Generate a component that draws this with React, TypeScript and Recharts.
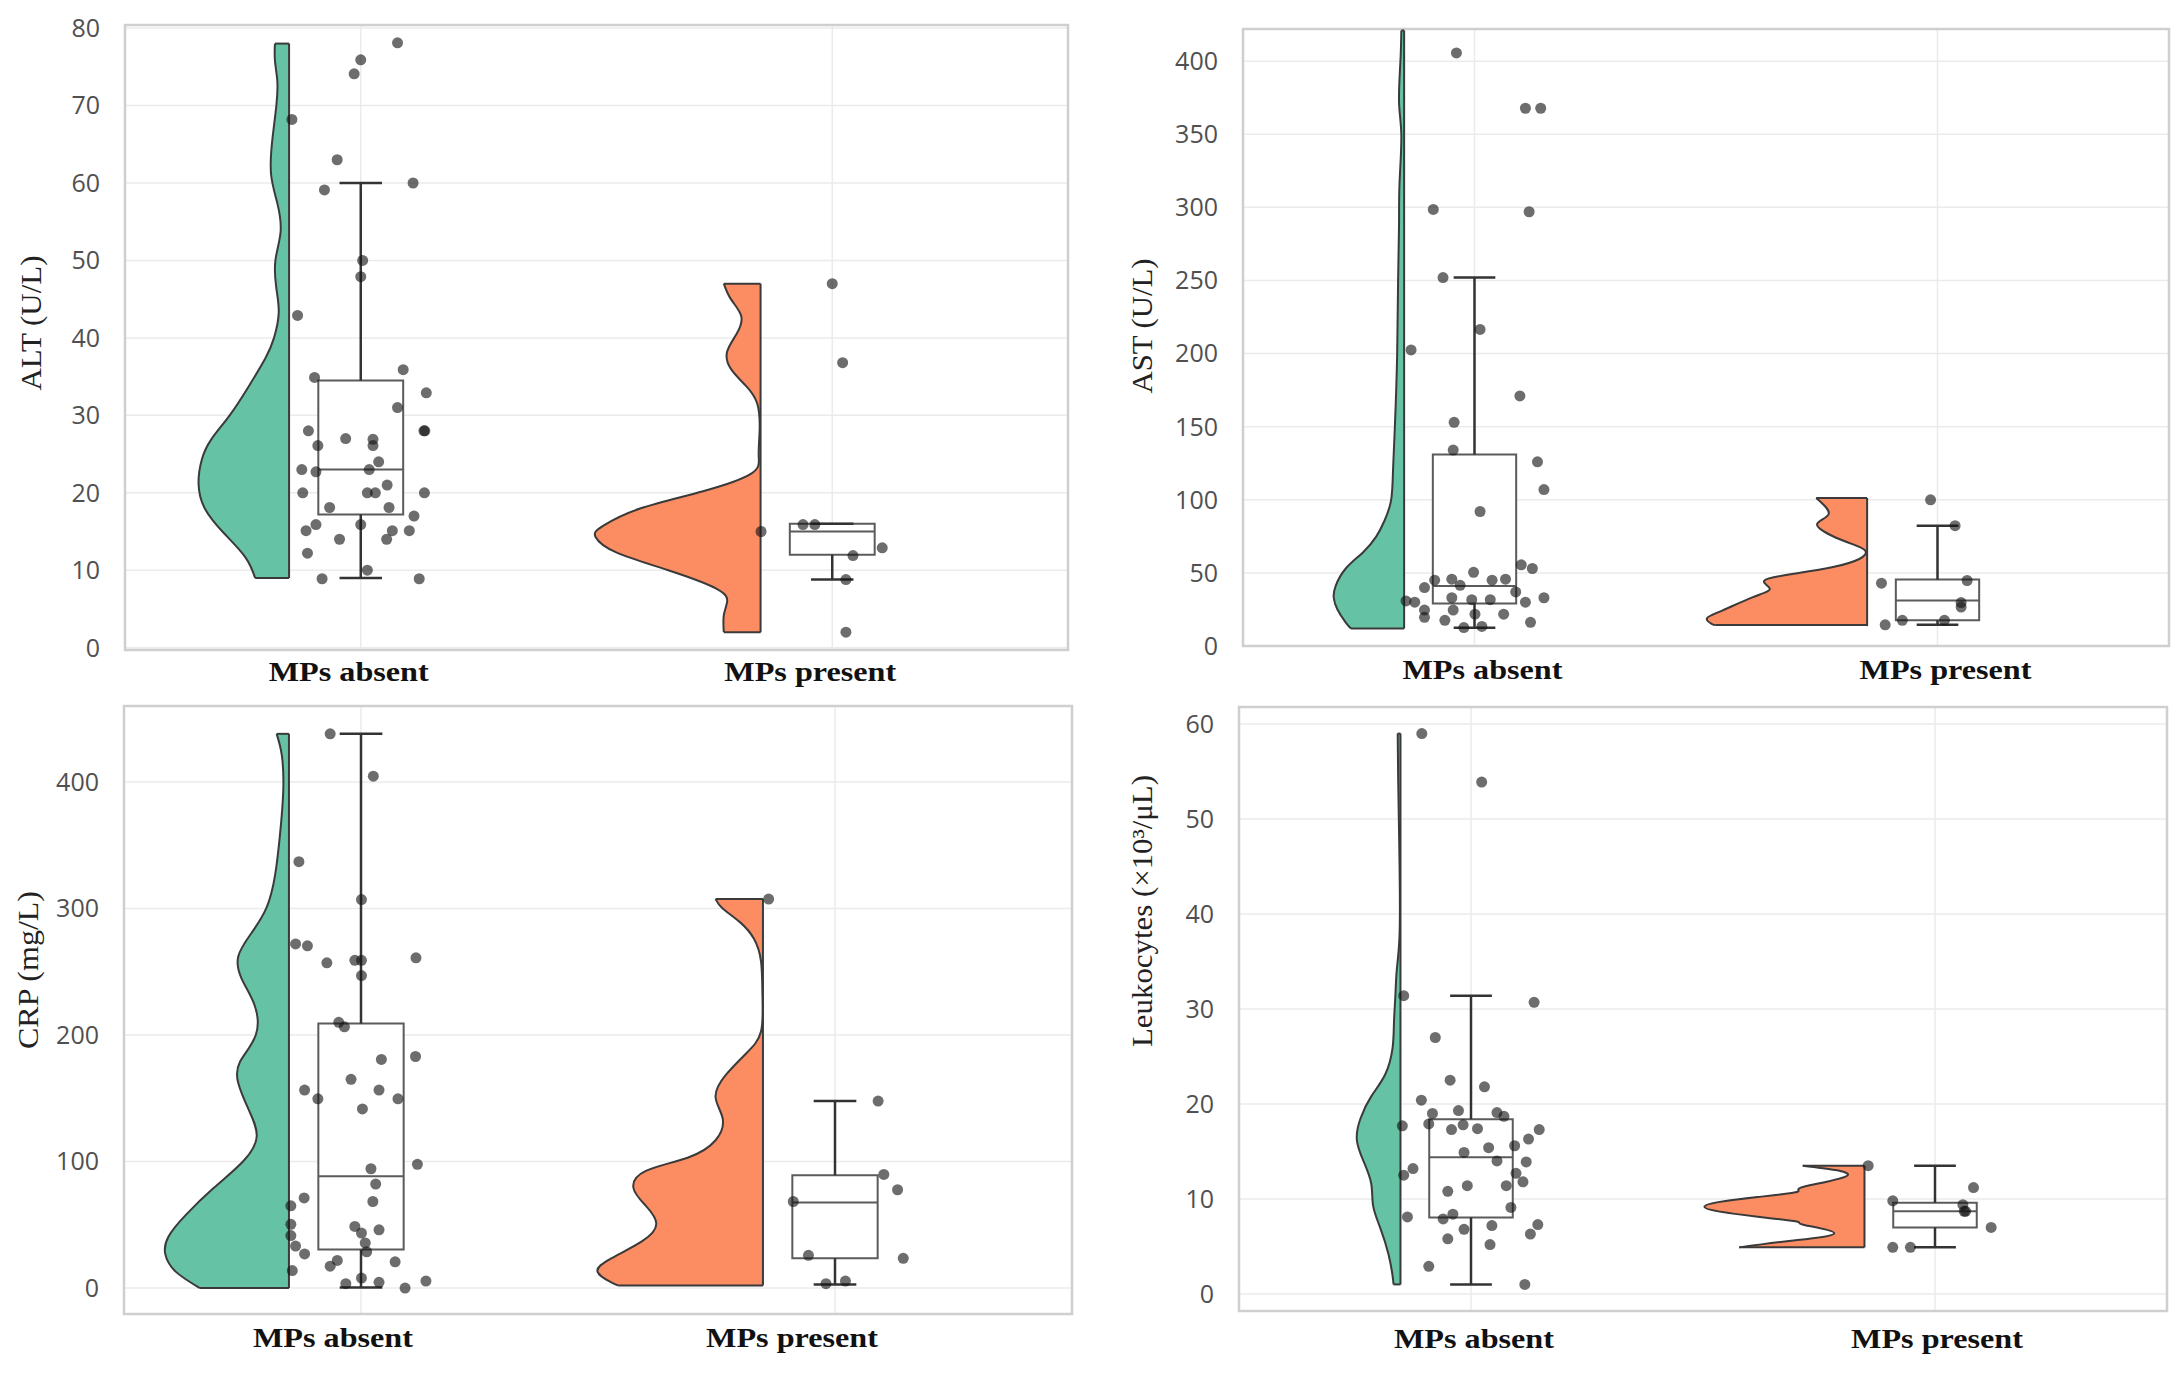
import React from 'react';
import {
  ComposedChart,
  Area,
  Scatter,
  XAxis,
  YAxis,
  CartesianGrid,
  ReferenceArea,
  ReferenceLine,
} from 'recharts';

// Groups shown on every panel
const categories = ['MPs absent', 'MPs present'];
const groupColors = ['#66c2a5', '#fc8d62'];

// ---------- ALT (U/L) ----------
const altAbsentValues = [78.1, 75.9, 74.1, 68.2, 63.0, 59.1, 60.0, 50.0, 47.9, 42.9, 35.9, 34.9, 32.9, 31.0, 28.0, 28.0, 28.0, 27.0, 26.9, 26.1, 26.1, 24.0, 23.0, 22.7, 23.0, 20.0, 21.0, 20.0, 20.0, 20.0, 18.1, 18.1, 17.0, 15.9, 15.9, 15.1, 15.1, 15.1, 14.0, 14.0, 12.2, 10.0, 8.9, 8.9];
const altAbsentJitter = [0.078, 0.0, -0.014, -0.146, -0.05, -0.077, 0.111, 0.004, 0.0, -0.134, 0.09, -0.098, 0.139, 0.078, 0.134, 0.136, -0.111, -0.032, 0.026, -0.091, 0.026, 0.038, -0.125, -0.095, 0.018, -0.123, 0.056, 0.014, 0.031, 0.135, -0.066, 0.06, 0.113, 0.0, -0.095, -0.116, 0.067, 0.103, -0.045, 0.055, -0.113, 0.014, -0.082, 0.124];
const altPresentValues = [47, 36.8, 15.0, 15.9, 15.9, 11.9, 12.9, 8.8, 2.0];
const altPresentJitter = [0.0, 0.022, -0.151, -0.062, -0.037, 0.044, 0.106, 0.029, 0.029];
// [lower whisker, q1, median, q3, upper whisker]
const altAbsentBox = [9, 17.2, 23, 34.5, 60];
const altPresentBox = [8.8, 12, 15, 16, 16];
const altAbsentViolinY = [9, 11.7, 14.9, 18, 21.2, 24.3, 26.9, 30, 33.7, 37.4, 40, 43.2, 46.4, 50, 53.7, 57.4, 61, 65.3, 70, 73.2, 75.8, 78];
const altAbsentViolinW = [0.072, 0.093, 0.14, 0.179, 0.192, 0.185, 0.165, 0.126, 0.086, 0.05, 0.032, 0.022, 0.027, 0.029, 0.018, 0.025, 0.038, 0.036, 0.027, 0.025, 0.03, 0.03];
const altPresentViolinY = [2, 4.2, 5.9, 7.6, 10, 12.3, 14.3, 15.7, 18, 20.2, 22.5, 24.8, 28.1, 31.5, 33.8, 36, 38.2, 40.5, 42.8, 45, 47];
const altPresentViolinW = [0.078, 0.078, 0.071, 0.093, 0.196, 0.306, 0.35, 0.335, 0.254, 0.122, 0.019, 0.004, 0.002, 0.007, 0.031, 0.063, 0.071, 0.051, 0.041, 0.063, 0.078];
const altTicks = [0, 10, 20, 30, 40, 50, 60, 70, 80];

// ---------- AST (U/L) ----------
const astAbsentValues = [405.6, 367.8, 367.8, 298.6, 297, 252, 216.5, 202.5, 171, 153, 134, 126, 107, 92, 55.5, 53, 50.4, 45, 45.7, 45, 45.7, 40, 41.5, 37, 30.8, 30, 33, 31.7, 31.7, 30, 33, 24.6, 24.6, 21.8, 21.8, 19.6, 17.6, 16.2, 12.6, 13.4];
const astAbsentJitter = [-0.039, 0.11, 0.143, -0.089, 0.118, -0.068, 0.012, -0.137, 0.098, -0.044, -0.046, 0.136, 0.15, 0.012, 0.101, 0.125, -0.002, -0.086, -0.049, 0.038, 0.067, -0.108, -0.031, 0.089, -0.148, -0.129, -0.049, -0.006, 0.034, 0.11, 0.15, -0.108, -0.046, 0.001, 0.063, -0.108, -0.064, 0.121, -0.023, 0.016];
const astPresentValues = [100, 82.3, 43, 44.8, 29.7, 26.6, 17.6, 17.6, 14.5];
const astPresentJitter = [-0.015, 0.038, -0.121, 0.064, 0.051, 0.051, -0.076, 0.015, -0.113];
const astAbsentBox = [12.5, 29, 41, 131, 252];
const astPresentBox = [14.5, 17.6, 31.2, 45.4, 82.3];
const astAbsentViolinY = [12, 16, 25, 33, 41, 53, 64, 75, 86, 100, 120, 150, 200, 250, 288, 316, 349, 372, 400, 421];
const astAbsentViolinW = [0.115, 0.126, 0.144, 0.152, 0.148, 0.126, 0.089, 0.06, 0.042, 0.028, 0.024, 0.02, 0.015, 0.013, 0.011, 0.01, 0.006, 0.011, 0.008, 0.006];
const astPresentViolinY = [14.3, 15, 18.9, 24.2, 33.3, 39, 44.7, 49.2, 53.8, 59.5, 65.2, 69.7, 75.4, 83.4, 90.3, 101.2];
const astPresentViolinW = [0.328, 0.335, 0.346, 0.313, 0.248, 0.21, 0.222, 0.162, 0.076, 0.017, 0.004, 0.032, 0.076, 0.108, 0.083, 0.11];
const astTicks = [0, 50, 100, 150, 200, 250, 300, 350, 400];

// ---------- CRP (mg/L) ----------
const crpAbsentValues = [438, 404.5, 337, 307, 272, 270.5, 257, 259, 259, 261, 247, 210, 206.5, 183, 180.7, 165, 156.5, 156.5, 149.6, 149.6, 141.6, 97.8, 94.3, 82.2, 71.2, 68.4, 65, 50.4, 48.7, 41.5, 43.5, 46, 35.6, 33.2, 27, 28.7, 21.8, 20.7, 17.3, 13.8, 7.9, 3.5, 4.5, 0, 5.5];
const crpAbsentJitter = [-0.065, 0.026, -0.131, 0.001, -0.138, -0.113, -0.072, -0.013, 0.001, 0.116, 0.001, -0.047, -0.035, 0.115, 0.043, -0.021, -0.119, 0.038, -0.091, 0.078, 0.003, 0.119, 0.021, 0.031, -0.12, 0.025, -0.148, -0.148, -0.013, -0.148, 0.001, 0.038, 0.009, -0.138, -0.119, 0.012, -0.05, 0.072, -0.065, -0.145, 0.001, -0.032, 0.038, 0.093, 0.137];
const crpPresentValues = [307.4, 147.8, 89.8, 77.7, 68.4, 25.9, 23.5, 3.5, 5.5];
const crpPresentJitter = [-0.14, 0.091, 0.103, 0.132, -0.088, -0.056, 0.144, -0.019, 0.022];
const crpAbsentBox = [0.5, 30.4, 88.4, 209, 438];
const crpPresentBox = [2.8, 23.5, 67.7, 89.1, 147.8];
const crpAbsentViolinY = [0, 13, 27, 40.8, 58, 79, 100, 120, 141, 162, 179, 200, 224, 244.6, 262, 279, 300, 327, 358, 393, 421, 438];
const crpAbsentViolinW = [0.188, 0.239, 0.261, 0.254, 0.217, 0.159, 0.097, 0.068, 0.085, 0.107, 0.103, 0.07, 0.073, 0.1, 0.107, 0.082, 0.048, 0.029, 0.019, 0.012, 0.015, 0.026];
const crpPresentViolinY = [2, 4.5, 13, 23.5, 37.3, 51, 65, 78.8, 92.6, 103, 116.8, 134, 151, 168.6, 186, 203, 231, 258, 276, 289, 300, 307.4];
const crpPresentViolinW = [0.305, 0.32, 0.349, 0.32, 0.254, 0.225, 0.247, 0.273, 0.247, 0.159, 0.1, 0.085, 0.1, 0.078, 0.034, 0.004, 0.001, 0.004, 0.019, 0.048, 0.085, 0.1];
const crpTicks = [0, 100, 200, 300, 400];

// ---------- Leukocytes (x10^3/uL) ----------
const leuAbsentValues = [59, 53.9, 31.4, 30.7, 27, 22.5, 21.8, 20.4, 19.3, 19.0, 19.1, 18.7, 17.7, 17.9, 17.8, 17.3, 17.4, 17.3, 16.3, 15.6, 15.4, 14.9, 14, 13.9, 13.2, 12.5, 12.7, 11.8, 11.4, 11.4, 10.8, 9.1, 8.1, 8.4, 7.9, 6.8, 7.3, 7.2, 6.3, 5.8, 5.2, 2.9, 1.0];
const leuAbsentJitter = [-0.106, 0.023, -0.145, 0.136, -0.077, -0.045, 0.029, -0.107, -0.027, -0.083, 0.056, 0.071, -0.148, -0.091, -0.017, -0.042, 0.014, 0.147, 0.124, 0.094, 0.038, -0.015, 0.056, 0.119, -0.125, -0.145, 0.097, 0.112, -0.008, 0.076, -0.05, 0.086, -0.137, -0.039, -0.06, -0.015, 0.144, 0.045, 0.128, -0.05, 0.041, -0.091, 0.116];
const leuPresentValues = [13.5, 9.8, 11.2, 9.4, 8.7, 8.7, 7.0, 4.9, 4.9];
const leuPresentJitter = [-0.144, -0.091, 0.083, 0.06, 0.063, 0.066, 0.121, -0.091, -0.053];
const leuAbsentBox = [1.0, 8.05, 14.4, 18.4, 31.4];
const leuPresentBox = [4.9, 7.0, 8.7, 9.6, 13.5];
const leuAbsentViolinY = [1.0, 1.9, 4.2, 7.0, 9.3, 11.6, 13.9, 16.2, 18.5, 20.8, 23.1, 25.9, 28.6, 31.4, 34.1, 37.8, 45.2, 54.4, 59];
const leuAbsentViolinW = [0.015, 0.017, 0.026, 0.044, 0.059, 0.063, 0.079, 0.094, 0.086, 0.063, 0.033, 0.017, 0.014, 0.011, 0.008, 0.002, 0.002, 0.005, 0.006];
const leuPresentViolinY = [4.9, 5.6, 6.38, 7.26, 7.6, 8.13, 9.18, 10.2, 10.76, 11.3, 12.5, 13.5];
const leuPresentViolinW = [0.27, 0.158, 0.065, 0.13, 0.144, 0.23, 0.345, 0.23, 0.144, 0.129, 0.036, 0.133];
const leuTicks = [0, 10, 20, 30, 40, 50, 60];

// geometry of the raincloud pieces, in category units
const VIOLIN_OFFSET = 0.152;
const BOX_HALF = 0.09;
const CAP_HALF = 0.045;

const makeGroup = (index, values, jitter, box, violinY, violinW) => {
  const flat = index - VIOLIN_OFFSET;
  return {
    index,
    color: groupColors[index],
    box,
    flat,
    violin: violinY.map((y, i) => ({ y, v: [flat, flat - violinW[i]] })),
    bottom: { y: violinY[0], w: violinW[0] },
    top: { y: violinY[violinY.length - 1], w: violinW[violinW.length - 1] },
    points: values.map((y, i) => ({ x: index + jitter[i], y })),
  };
};

const panels = [
  {
    key: 'alt',
    left: 0, top: 0, width: 1090, height: 715,
    margin: { top: 25, right: 22, left: 0, bottom: 25 },
    yAxisWidth: 125, xAxisHeight: 40,
    labelBaseline: 31, labelShift: [-12, -22],
    domain: [-0.3, 80.4], ticks: altTicks,
    title: 'ALT (U/L)', titleX: 31, titleY: 323, titleLength: 135,
    groups: [
      makeGroup(0, altAbsentValues, altAbsentJitter, altAbsentBox, altAbsentViolinY, altAbsentViolinW),
      makeGroup(1, altPresentValues, altPresentJitter, altPresentBox, altPresentViolinY, altPresentViolinW),
    ],
  },
  {
    key: 'ast',
    left: 1090, top: 0, width: 1093, height: 715,
    margin: { top: 29, right: 14, left: 0, bottom: 25 },
    yAxisWidth: 153, xAxisHeight: 44,
    labelBaseline: 33, labelShift: [8, 8],
    domain: [0, 422], ticks: astTicks,
    title: 'AST (U/L)', titleX: 52, titleY: 326, titleLength: 135,
    groups: [
      makeGroup(0, astAbsentValues, astAbsentJitter, astAbsentBox, astAbsentViolinY, astAbsentViolinW),
      makeGroup(1, astPresentValues, astPresentJitter, astPresentBox, astPresentViolinY, astPresentViolinW),
    ],
  },
  {
    key: 'crp',
    left: 0, top: 690, width: 1090, height: 683,
    margin: { top: 16, right: 18, left: 0, bottom: 0 },
    yAxisWidth: 124, xAxisHeight: 59,
    labelBaseline: 33, labelShift: [-28, -43],
    domain: [-20.5, 460], ticks: crpTicks,
    title: 'CRP (mg/L)', titleX: 28, titleY: 280, titleLength: 158,
    groups: [
      makeGroup(0, crpAbsentValues, crpAbsentJitter, crpAbsentBox, crpAbsentViolinY, crpAbsentViolinW),
      makeGroup(1, crpPresentValues, crpPresentJitter, crpPresentBox, crpPresentViolinY, crpPresentViolinW),
    ],
  },
  {
    key: 'leu',
    left: 1090, top: 690, width: 1093, height: 683,
    margin: { top: 17, right: 16, left: 0, bottom: 0 },
    yAxisWidth: 149, xAxisHeight: 62,
    labelBaseline: 37, labelShift: [3, 2],
    domain: [-1.8, 61.8], ticks: leuTicks,
    title: 'Leukocytes (×10³/μL)', titleX: 52, titleY: 221, titleLength: 272,
    groups: [
      makeGroup(0, leuAbsentValues, leuAbsentJitter, leuAbsentBox, leuAbsentViolinY, leuAbsentViolinW),
      makeGroup(1, leuPresentValues, leuPresentJitter, leuPresentBox, leuPresentViolinY, leuPresentViolinW),
    ],
  },
];

const labelWidths = [160, 172];

const renderDot = (props: any) => (
  <circle cx={props.cx} cy={props.cy} r={5.5} fill="rgba(20,20,20,0.62)" />
);

const outline = '#3a3a3a';
const boxStroke = '#5b5b5b';

const RaincloudPanel = ({ panel }: any) => {
  const { groups, domain } = panel;

  // y-axis title, rotated like matplotlib's ylabel
  const renderTitle = () => (
    <text
      x={panel.titleX}
      y={panel.titleY}
      transform={`rotate(-90 ${panel.titleX} ${panel.titleY})`}
      textAnchor="middle"
      dominantBaseline="central"
      fontFamily="'Liberation Serif', serif"
      fontSize={29}
      fill="#222"
      textLength={panel.titleLength}
      lengthAdjust="spacingAndGlyphs"
    >
      {panel.title}
    </text>
  );

  // bold category names under the plot
  const renderCategoryTick = (props: any) => {
    const i = props.payload.value;
    return (
      <text
        x={props.x + panel.labelShift[i]}
        y={props.y + panel.labelBaseline}
        textAnchor="middle"
        fontFamily="'Liberation Serif', serif"
        fontWeight={700}
        fontSize={28}
        fill="#111"
        textLength={labelWidths[i]}
        lengthAdjust="spacingAndGlyphs"
      >
        {categories[i]}
      </text>
    );
  };

  return (
    <div style={{ position: 'absolute', left: panel.left, top: panel.top }}>
      <ComposedChart
        width={panel.width}
        height={panel.height}
        layout="vertical"
        margin={panel.margin}
      >
        <CartesianGrid stroke="#ebebeb" strokeWidth={1.5} />
        <XAxis
          type="number"
          dataKey="x"
          domain={[-0.5, 1.5]}
          ticks={[0, 1]}
          interval={0}
          allowDataOverflow
          axisLine={false}
          tickLine={false}
          tickSize={0}
          tickMargin={0}
          height={panel.xAxisHeight}
          tick={renderCategoryTick}
        />
        <YAxis
          type="number"
          dataKey="y"
          reversed
          domain={domain}
          ticks={panel.ticks}
          interval={0}
          allowDataOverflow
          width={panel.yAxisWidth}
          axisLine={false}
          tickLine={false}
          tickSize={0}
          tickMargin={25}
          tick={{ fontFamily: "'Open Sans', sans-serif", fontSize: 25, fill: '#505050' }}
          label={{ content: renderTitle }}
        />
        <ReferenceArea
          x1={-0.5}
          x2={1.5}
          y1={domain[0]}
          y2={domain[1]}
          fill="none"
          fillOpacity={0}
          stroke="#cfcfcf"
          strokeWidth={2.5}
          ifOverflow="visible"
        />

        {/* half violins */}
        {groups.map((g: any) => (
          <Area
            key={`violin-${g.index}`}
            data={g.violin}
            dataKey="v"
            type="natural"
            fill={g.color}
            fillOpacity={1}
            stroke={outline}
            strokeWidth={2}
            dot={false}
            activeDot={false}
            isAnimationActive={false}
          />
        ))}
        {groups.map((g: any) => (
          <ReferenceLine
            key={`vb-${g.index}`}
            segment={[{ x: g.flat - g.bottom.w, y: g.bottom.y }, { x: g.flat, y: g.bottom.y }]}
            stroke={outline}
            strokeWidth={2}
            ifOverflow="visible"
          />
        ))}
        {groups.map((g: any) => (
          <ReferenceLine
            key={`vt-${g.index}`}
            segment={[{ x: g.flat - g.top.w, y: g.top.y }, { x: g.flat, y: g.top.y }]}
            stroke={outline}
            strokeWidth={2}
            ifOverflow="visible"
          />
        ))}

        {/* box plots */}
        {groups.map((g: any) => (
          <ReferenceLine
            key={`wl-${g.index}`}
            segment={[{ x: g.index, y: g.box[0] }, { x: g.index, y: g.box[1] }]}
            stroke="#333"
            strokeWidth={2.5}
            ifOverflow="visible"
          />
        ))}
        {groups.map((g: any) => (
          <ReferenceLine
            key={`wh-${g.index}`}
            segment={[{ x: g.index, y: g.box[3] }, { x: g.index, y: g.box[4] }]}
            stroke="#333"
            strokeWidth={2.5}
            ifOverflow="visible"
          />
        ))}
        {groups.map((g: any) => (
          <ReferenceLine
            key={`cl-${g.index}`}
            segment={[{ x: g.index - CAP_HALF, y: g.box[0] }, { x: g.index + CAP_HALF, y: g.box[0] }]}
            stroke="#333"
            strokeWidth={2.5}
            ifOverflow="visible"
          />
        ))}
        {groups.map((g: any) => (
          <ReferenceLine
            key={`ch-${g.index}`}
            segment={[{ x: g.index - CAP_HALF, y: g.box[4] }, { x: g.index + CAP_HALF, y: g.box[4] }]}
            stroke="#333"
            strokeWidth={2.5}
            ifOverflow="visible"
          />
        ))}
        {groups.map((g: any) => (
          <ReferenceArea
            key={`box-${g.index}`}
            x1={g.index - BOX_HALF}
            x2={g.index + BOX_HALF}
            y1={g.box[1]}
            y2={g.box[3]}
            fill="#ffffff"
            fillOpacity={1}
            stroke={boxStroke}
            strokeWidth={2}
            ifOverflow="visible"
          />
        ))}
        {groups.map((g: any) => (
          <ReferenceLine
            key={`med-${g.index}`}
            segment={[{ x: g.index - BOX_HALF, y: g.box[2] }, { x: g.index + BOX_HALF, y: g.box[2] }]}
            stroke={boxStroke}
            strokeWidth={2}
            ifOverflow="visible"
          />
        ))}

        {/* raw observations */}
        {groups.map((g: any) => (
          <Scatter
            key={`pts-${g.index}`}
            data={g.points}
            shape={renderDot}
            isAnimationActive={false}
          />
        ))}
      </ComposedChart>
    </div>
  );
}

export default function App() {
  return (
    <div
      style={{
        position: 'absolute',
        left: 0,
        top: 0,
        width: 2183,
        height: 1373,
        background: '#ffffff',
      }}
    >
      {panels.map((p) => (
        <RaincloudPanel key={p.key} panel={p} />
      ))}
    </div>
  );
}
